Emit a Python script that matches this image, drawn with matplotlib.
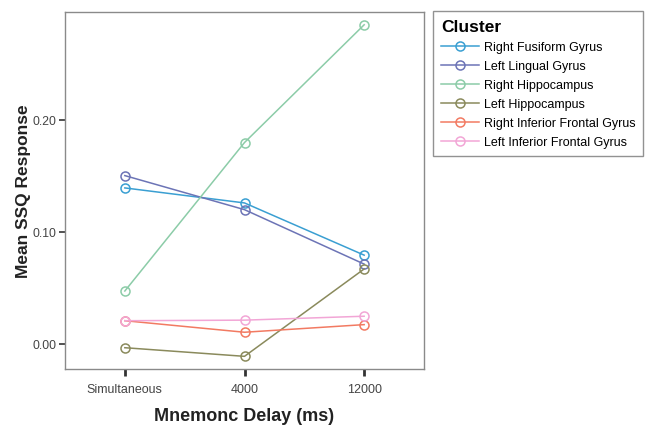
import matplotlib
matplotlib.use("Agg")
import matplotlib.pyplot as plt

plt.rcParams['font.family'] = ['Liberation Sans', 'DejaVu Sans']

delays = ["Simultaneous", "4000", "12000"]
clusters = ["Right Fusiform Gyrus", "Left Lingual Gyrus", "Right Hippocampus",
            "Left Hippocampus", "Right Inferior Frontal Gyrus", "Left Inferior Frontal Gyrus"]
right_fusiform = [0.139, 0.1256, 0.079]
left_lingual = [0.150, 0.1196, 0.071]
right_hippocampus = [0.047, 0.1795, 0.2846]
left_hippocampus = [-0.0036, -0.0113, 0.0667]
right_ifg = [0.0205, 0.0102, 0.017]
left_ifg = [0.0205, 0.021, 0.0245]
series = [right_fusiform, left_lingual, right_hippocampus, left_hippocampus, right_ifg, left_ifg]
colors = ["#3a9fd2", "#6c74b6", "#8ccca8", "#8a8a5c", "#f27a62", "#f2a6d6"]

fig = plt.figure(figsize=(6.47, 4.27), dpi=100)
ax = fig.add_axes([65/647, 1-370/427, (424-65)/647, (370-13)/427])

x = list(range(len(delays)))
for name, vals, c in zip(clusters, series, colors):
    ax.plot(x, vals, color=c, lw=1.1, marker='o', markersize=6.5,
            markerfacecolor='none', markeredgecolor=c, markeredgewidth=1.1, label=name)

ax.set_xlim(-0.5, 2.5)
ax.set_ylim(-0.0226, 0.296)
ax.set_yticks([0.0, 0.1, 0.2])
ax.set_yticklabels(["0.00", "0.10", "0.20"])
ax.set_xticks(x)
ax.set_xticklabels(delays)
for s in ax.spines.values():
    s.set_color("#8a8a8a")
    s.set_linewidth(1.0)
ax.tick_params(axis='y', length=4, width=1.2, color='#333333', labelsize=8.8, labelcolor='#444444', pad=2)
ax.tick_params(axis='x', length=5, width=2, color='#333333', labelsize=9, labelcolor='#444444', pad=5)

ax.set_ylabel("Mean SSQ Response", fontsize=12.5, fontweight='bold', color='#222222', labelpad=1)
ax.set_xlabel("Mnemonc Delay (ms)", fontsize=13, fontweight='bold', color='#222222', labelpad=9)

leg = fig.legend(loc='upper left', bbox_to_anchor=(433/647, 1-12/427), title="Cluster",
                 fontsize=9, frameon=True, fancybox=False, handlelength=3.0,
                 borderpad=0.65, labelspacing=0.56, handletextpad=0.4, alignment='left',
                 borderaxespad=0)
leg.get_title().set_fontweight('bold')
leg.get_title().set_fontsize(12.5)
leg.get_frame().set_edgecolor('#777777')
leg.get_frame().set_linewidth(1.0)

fig.savefig("out.png", dpi=100)
